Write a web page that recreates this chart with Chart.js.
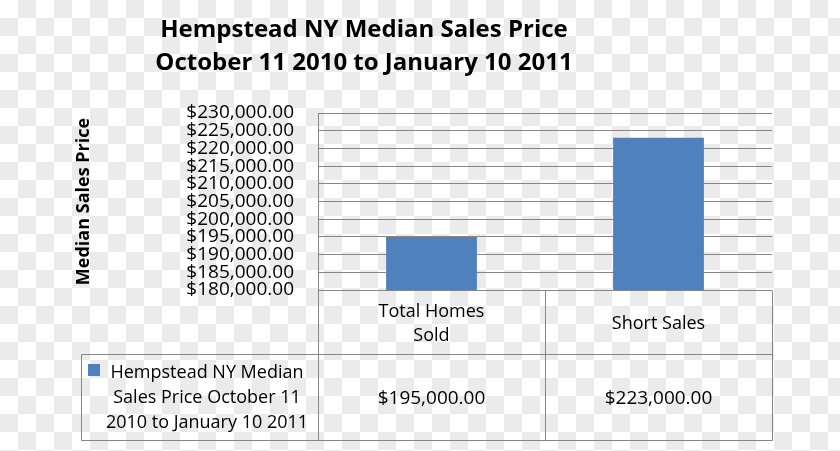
<!DOCTYPE html>
<html>
<head>
<meta charset="utf-8">
<script src="https://cdn.jsdelivr.net/npm/chart.js@4.4.0/dist/chart.umd.min.js"></script>
<style>
  html, body { margin: 0; padding: 0; }
  body {
    width: 840px; height: 451px;
    background: repeating-conic-gradient(#ebebeb 0% 25%, #ffffff 0% 50%) 0 0 / 36px 36px;
  }
  #wrap { width: 840px; height: 451px; position: relative; }
</style>
</head>
<body>
<div id="wrap"><canvas id="priceChart"></canvas></div>
<script>
const titleLines = ['Hempstead NY Median Sales Price', 'October 11 2010 to January 10 2011'];
const categories = [['Total Homes', 'Sold'], 'Short Sales'];
const medianPrices = [195000, 223000];
const seriesLines = ['Hempstead NY Median', 'Sales Price October 11', '2010 to January 10 2011'];
const yTickValues = [180000, 185000, 190000, 195000, 200000, 205000, 210000, 215000, 220000, 225000, 230000];

const FONT = 'Open Sans';
const GRID = '#868686';
const BAR = '#4f81bd';

function money(v) {
  return '$' + v.toLocaleString('en-US', {minimumFractionDigits: 2, maximumFractionDigits: 2});
}

// two-line title, centred a bit left of the canvas middle like the original
const chartTitle = {
  id: 'chartTitle',
  afterDraw(chart) {
    const {ctx} = chart;
    ctx.save();
    ctx.fillStyle = '#000';
    ctx.font = 'bold 24px "' + FONT + '"';
    ctx.textAlign = 'center';
    ctx.textBaseline = 'alphabetic';
    titleLines.forEach((l, i) => ctx.fillText(l, 364, 37 + i * 33));
    ctx.restore();
  }
};

// draws the Excel-style data table under the plot
const dataTable = {
  id: 'dataTable',
  afterDraw(chart) {
    const {ctx, chartArea: a, scales: {x}} = chart;
    const px = v => Math.round(v) + 0.5;
    const headBottom = a.bottom + 64;
    const tableBottom = headBottom + 86;
    const tableLeft = 81;
    const mids = categories.map((c, i) => x.getPixelForValue(i));
    const bounds = [a.left];
    for (let i = 0; i < mids.length - 1; i++) bounds.push((mids[i] + mids[i + 1]) / 2);
    bounds.push(a.right);

    ctx.save();
    ctx.strokeStyle = GRID;
    ctx.lineWidth = 1;
    ctx.beginPath();
    ctx.moveTo(px(tableLeft), px(headBottom)); ctx.lineTo(px(a.right), px(headBottom));
    ctx.moveTo(px(tableLeft), px(tableBottom)); ctx.lineTo(px(a.right), px(tableBottom));
    ctx.moveTo(px(tableLeft), px(headBottom)); ctx.lineTo(px(tableLeft), px(tableBottom));
    bounds.forEach(b => { ctx.moveTo(px(b), px(a.bottom)); ctx.lineTo(px(b), px(tableBottom)); });
    ctx.stroke();

    ctx.fillStyle = '#000';
    ctx.textAlign = 'center';
    ctx.textBaseline = 'middle';
    const headMid = (a.bottom + headBottom) / 2 + 2;
    const valMid = (headBottom + tableBottom) / 2 + 1;
    categories.forEach((c, i) => {
      const lines = Array.isArray(c) ? c : [c];
      const lh = 24;
      ctx.font = '18px "' + FONT + '"';
      lines.forEach((l, j) => {
        ctx.fillText(l, mids[i], headMid + (j - (lines.length - 1) / 2) * lh);
      });
      ctx.font = '19px "' + FONT + '"';
      ctx.fillText(money(medianPrices[i]), mids[i], valMid + 1);
    });

    // legend key
    ctx.fillStyle = BAR;
    ctx.fillRect(88, valMid - 34, 12, 12);
    ctx.fillStyle = '#000';
    ctx.font = '18px "' + FONT + '"';
    seriesLines.forEach((l, j) => {
      ctx.fillText(l, 207, valMid + (j - 1) * 25);
    });
    ctx.restore();
  }
};

new Chart(document.getElementById('priceChart'), {
  type: 'bar',
  data: {
    labels: categories,
    datasets: [{
      label: seriesLines.join(' '),
      data: medianPrices,
      backgroundColor: BAR,
      barPercentage: 0.4,
      categoryPercentage: 1
    }]
  },
  options: {
    responsive: true,
    maintainAspectRatio: false,
    animation: false,
    layout: {padding: {left: 0, top: 113, right: 68, bottom: 161}},
    plugins: {
      legend: {display: false},
      tooltip: {enabled: false},
      title: {display: false}
    },
    scales: {
      x: {display: false},
      y: {
        min: 180000,
        max: 230000,
        afterBuildTicks: s => { s.ticks = yTickValues.map(v => ({value: v})); },
        afterFit: s => { s.width = 318; },
        grid: {color: GRID, drawTicks: false},
        border: {color: GRID},
        ticks: {
          color: '#000',
          padding: 24,
          autoSkip: false,
          font: {family: FONT, size: 19, lineHeight: 1},
          callback: v => money(v)
        },
        title: {
          display: true,
          text: 'Median Sales Price',
          color: '#000',
          font: {family: FONT, size: 18, weight: 'bold', lineHeight: 1.2},
          padding: {top: 73, bottom: 0}
        }
      }
    }
  },
  plugins: [chartTitle, dataTable]
});
</script>
</body>
</html>
